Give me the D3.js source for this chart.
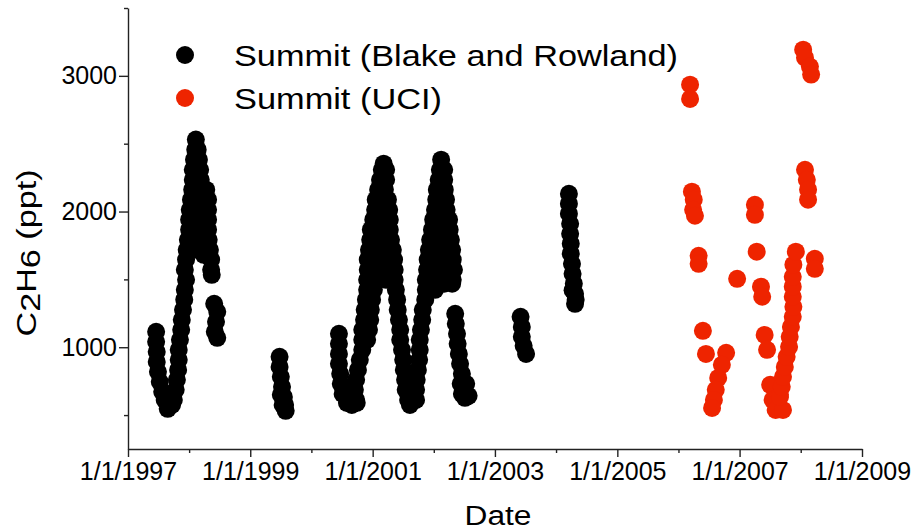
<!DOCTYPE html>
<html>
<head>
<meta charset="utf-8">
<script src="https://cdn.jsdelivr.net/npm/d3@7"></script>
<style>
  body { margin: 0; background: #fff; }
  svg { display: block; font-family: "Liberation Sans", Arial, Helvetica, sans-serif; }
</style>
</head>
<body>
<div id="chart"></div>
<script>
// [decimal year, ethane ppt]
const blakeRowland = [
  // 1997-1998 cycle
  [1997.46,1114],[1997.46,1040],[1997.47,966],[1997.47,892],[1997.49,819],[1997.52,745],[1997.56,671],
  [1997.60,612],[1997.65,546],[1997.72,575],
  [1997.75,612],[1997.78,686],[1997.80,760],[1997.82,833],[1997.83,907],[1997.83,981],[1997.85,1055],
  [1997.87,1128],[1997.88,1202],[1997.90,1276],[1997.92,1350],[1997.93,1423],[1997.95,1497],
  [1997.93,1571],[1998.36,1571],[1997.95,1645],[1998.36,1645],[1998.37,1534],
  [1997.96,1718],[1998.14,1718],[1998.34,1718],[1998.24,1681],
  [1997.98,1792],[1998.14,1792],[1998.32,1792],
  [1998.00,1866],[1998.16,1866],[1998.31,1866],
  [1998.00,1940],[1998.16,1940],[1998.31,1940],
  [1998.01,2013],[1998.16,2013],[1998.31,2013],
  [1998.03,2087],[1998.16,2087],[1998.31,2087],
  [1998.05,2161],[1998.18,2161],[1998.28,2161],
  [1998.06,2234],[1998.19,2234],[1998.06,2308],[1998.18,2308],
  [1998.08,2382],[1998.16,2382],[1998.10,2456],[1998.14,2456],[1998.11,2530],
  [1998.41,1320],[1998.46,1261],[1998.44,1187],[1998.42,1114],[1998.46,1069],
  // 1999
  [1999.48,929],[1999.48,855],[1999.50,782],[1999.52,708],[1999.55,634],[1999.57,575],[1999.58,531],
  [1999.53,575],[1999.50,649],
  // 2000-2002
  [2000.45,1099],[2000.45,1025],[2000.45,951],[2000.45,878],[2000.47,804],[2000.48,730],[2000.51,656],
  [2000.58,590],[2000.66,575],[2000.74,590],
  [2000.60,612],[2000.73,612],[2000.71,686],[2000.73,760],[2000.76,833],[2000.79,907],[2000.83,981],
  [2000.83,1055],[2000.91,1055],[2000.83,1128],[2000.94,1128],[2000.86,1202],[2000.96,1202],
  [2000.87,1276],[2000.97,1276],[2000.89,1350],[2000.99,1350],[2000.91,1423],[2001.02,1423],
  [2000.91,1497],[2001.05,1497],[2001.22,1497],[2001.36,1497],
  [2000.92,1571],[2001.07,1571],[2001.22,1571],[2001.36,1571],
  [2000.92,1645],[2001.09,1645],[2001.23,1645],[2001.35,1645],
  [2000.94,1718],[2001.10,1718],[2001.23,1718],[2001.33,1718],
  [2000.96,1792],[2001.12,1792],[2001.30,1792],
  [2000.97,1866],[2001.12,1866],[2001.28,1866],
  [2001.01,1940],[2001.15,1940],[2001.28,1940],
  [2001.04,2013],[2001.17,2013],[2001.27,2013],
  [2001.05,2087],[2001.17,2087],[2001.25,2087],
  [2001.09,2161],[2001.20,2161],[2001.12,2234],[2001.22,2234],
  [2001.15,2308],[2001.22,2308],[2001.18,2353],
  [2001.38,1423],[2001.40,1350],[2001.41,1276],[2001.43,1202],[2001.45,1128],[2001.45,1055],
  [2001.48,981],[2001.50,907],[2001.51,833],[2001.53,760],[2001.54,686],[2001.58,612],[2001.61,575],
  [2001.71,612],[2001.71,686],[2001.72,760],[2001.74,833],[2001.76,907],[2001.77,981],[2001.77,1055],
  [2001.79,1128],[2001.81,1202],[2001.82,1276],[2001.86,1350],[2001.87,1423],[2002.02,1423],
  [2002.17,1468],[2002.30,1468],
  [2001.87,1497],[2002.02,1497],[2002.17,1497],[2002.31,1497],
  [2001.89,1571],[2002.04,1571],[2002.18,1571],[2002.33,1571],
  [2001.90,1645],[2002.05,1645],[2002.20,1645],[2002.31,1645],
  [2001.92,1718],[2002.07,1718],[2002.20,1718],[2002.30,1718],
  [2001.94,1792],[2002.08,1792],[2002.28,1792],
  [2001.97,1866],[2002.12,1866],[2002.26,1866],
  [2001.99,1940],[2002.12,1940],[2002.25,1940],
  [2002.02,2013],[2002.13,2013],[2002.21,2013],
  [2002.04,2087],[2002.20,2087],[2002.05,2161],[2002.18,2161],
  [2002.08,2234],[2002.17,2234],[2002.10,2308],[2002.17,2308],[2002.12,2382],
  [2002.35,1246],[2002.36,1173],[2002.38,1099],[2002.39,1025],[2002.41,951],[2002.43,878],
  [2002.46,804],[2002.44,730],[2002.53,730],[2002.46,656],[2002.57,642],[2002.51,627],
  // 2003, 2004
  [2003.42,1224],[2003.44,1150],[2003.44,1077],[2003.47,1010],[2003.51,951],
  [2004.21,2131],[2004.21,2058],[2004.21,1984],[2004.23,1910],[2004.23,1836],[2004.24,1763],
  [2004.24,1689],[2004.26,1615],[2004.27,1541],[2004.29,1468],[2004.31,1394],[2004.31,1320],
  [2004.27,1420],[2004.32,1350]
];

const uci = [
  [2006.19,2935],[2006.19,2830],
  [2006.22,2146],[2006.25,2087],[2006.24,2013],[2006.27,1969],
  [2006.33,1674],[2006.33,1615],
  [2006.40,1121],[2006.45,951],
  [2006.78,959],[2006.71,870],[2006.65,774],[2006.61,686],[2006.58,612],[2006.55,553],
  [2006.96,1504],
  [2007.25,2050],[2007.25,1976],[2007.28,1704],
  [2007.35,1446],[2007.37,1372],
  [2007.41,1091],[2007.45,981],
  [2007.50,723],[2007.54,612],[2007.59,538],[2007.71,538],[2007.66,649],
  [2007.66,634],[2007.69,708],[2007.71,782],[2007.74,855],[2007.77,929],[2007.81,1003],
  [2007.82,1077],[2007.84,1150],[2007.87,1224],[2007.88,1298],[2007.87,1372],[2007.87,1446],
  [2007.87,1519],[2007.88,1608],[2007.92,1704],
  [2008.23,1652],[2008.23,1578],
  [2008.04,3193],[2008.07,3134],[2008.15,3068],[2008.17,3009],
  [2008.07,2308],[2008.10,2234],[2008.12,2161],[2008.12,2087]
];

const majorYears = [1997, 1999, 2001, 2003, 2005, 2007, 2009];
const minorYears = [1998, 2000, 2002, 2004, 2006, 2008];
const majorPpt = [1000, 2000, 3000];
const minorPpt = [500, 1500, 2500, 3500];

const seriesNames = ["Summit (Blake and Rowland)", "Summit (UCI)"];
const seriesColors = ["#000000", "#ee2400"];

const width = 919;
const height = 531;
const plotLeft = 128, plotRight = 862, plotTop = 8, plotBottom = 449;
const r = 9;

// decimal year -> Date
function yearToDate(y) {
  const yr = Math.floor(y);
  const a = new Date(yr, 0, 1), b = new Date(yr + 1, 0, 1);
  return new Date(+a + (y - yr) * (b - a));
}

const xScale = d3.scaleTime()
  .domain([yearToDate(1997), yearToDate(2009)])
  .range([plotLeft, plotRight]);

const yScale = d3.scaleLinear()
  .domain([250, 3500])
  .range([plotBottom, plotTop]);

const svg = d3.select("#chart")
  .append("svg")
  .attr("width", width)
  .attr("height", height);

const fmt = d => `${d.getMonth() + 1}/${d.getDate()}/${d.getFullYear()}`;

// x axis
svg.append("g")
  .attr("transform", `translate(0, ${plotBottom})`)
  .call(d3.axisBottom(xScale).tickValues(minorYears.map(yearToDate)).tickSize(4).tickFormat(""))
  .call(g => g.select(".domain").remove());

svg.append("g")
  .attr("id", "x-axis")
  .attr("transform", `translate(0, ${plotBottom})`)
  .call(d3.axisBottom(xScale).tickValues(majorYears.map(yearToDate)).tickSize(8).tickSizeOuter(0).tickPadding(5).tickFormat(fmt));

// y axis
svg.append("g")
  .attr("transform", `translate(${plotLeft}, 0)`)
  .call(d3.axisLeft(yScale).tickValues(minorPpt).tickSize(4).tickFormat(""))
  .call(g => g.select(".domain").remove());

svg.append("g")
  .attr("id", "y-axis")
  .attr("transform", `translate(${plotLeft}, 0)`)
  .call(d3.axisLeft(yScale).tickValues(majorPpt).tickSize(9).tickSizeOuter(0).tickPadding(2).tickFormat(d3.format("d")));

svg.selectAll(".tick text")
  .style("font-size", "25px")
  .attr("fill", "#000");
svg.selectAll(".domain, .tick line")
  .attr("stroke", "#222")
  .attr("stroke-width", 1.4);

// points
svg.append("g")
  .selectAll("circle")
  .data(blakeRowland)
  .enter()
  .append("circle")
  .attr("cx", d => xScale(yearToDate(d[0])))
  .attr("cy", d => yScale(d[1]))
  .attr("r", r)
  .attr("fill", seriesColors[0]);

svg.append("g")
  .selectAll("circle")
  .data(uci)
  .enter()
  .append("circle")
  .attr("cx", d => xScale(yearToDate(d[0])))
  .attr("cy", d => yScale(d[1]))
  .attr("r", r)
  .attr("fill", seriesColors[1]);

// legend
const legendLen = [444, 208];
const legend = svg.append("g")
  .selectAll("g")
  .data(seriesNames)
  .enter()
  .append("g")
  .attr("transform", (d, i) => `translate(185, ${55 + i * 43})`);

legend.append("circle")
  .attr("r", r)
  .attr("fill", (d, i) => seriesColors[i]);

legend.append("text")
  .attr("x", 49)
  .attr("y", 11)
  .attr("textLength", (d, i) => legendLen[i])
  .attr("lengthAdjust", "spacingAndGlyphs")
  .style("font-size", "29px")
  .text(d => d);

// axis titles
svg.append("text")
  .attr("x", 498)
  .attr("y", 525)
  .attr("text-anchor", "middle")
  .attr("textLength", 67)
  .attr("lengthAdjust", "spacingAndGlyphs")
  .style("font-size", "27px")
  .text("Date");

const yLabel = svg.append("text")
  .attr("transform", "rotate(-90)")
  .attr("x", -253)
  .attr("y", 36)
  .attr("text-anchor", "middle")
  .attr("textLength", 167)
  .attr("lengthAdjust", "spacingAndGlyphs")
  .style("font-size", "27px");
yLabel.append("tspan").text("C");
yLabel.append("tspan").attr("dy", 4).text("2");
yLabel.append("tspan").attr("dy", -4).text("H");
yLabel.append("tspan").attr("dy", 4).text("6");
yLabel.append("tspan").attr("dy", -4).text(" (ppt)");
</script>
</body>
</html>
